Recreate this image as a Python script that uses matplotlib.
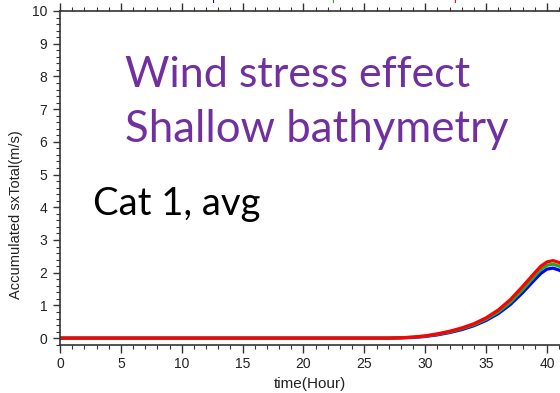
import matplotlib
matplotlib.use("Agg")
import matplotlib.pyplot as plt
from matplotlib.ticker import MultipleLocator

# Accumulated wind-stress forcing (sxTotal) for three runs
hours = [0, 5, 10, 15, 20, 25, 27, 28, 29, 30, 31, 32, 33, 34, 35, 36, 37, 38,
         39, 39.5, 40, 40.5, 41, 41.5]
sx_blue = [0, 0, 0, 0, 0, 0, 0, 0.01, 0.02, 0.05, 0.10, 0.17, 0.26, 0.38, 0.54,
           0.75, 1.03, 1.39, 1.79, 1.98, 2.11, 2.14, 2.08, 1.98]
sx_green = [0, 0, 0, 0, 0, 0, 0, 0.01, 0.03, 0.06, 0.12, 0.19, 0.29, 0.41, 0.58,
            0.80, 1.10, 1.48, 1.90, 2.10, 2.23, 2.26, 2.20, 2.10]
sx_red = [0, 0, 0, 0, 0, 0, 0, 0.01, 0.03, 0.07, 0.13, 0.21, 0.31, 0.44, 0.62,
          0.86, 1.18, 1.58, 2.00, 2.20, 2.33, 2.37, 2.31, 2.20]
series_labels = ["10.0m depth", "20.0m depth", "30.0m depth"]
series_colors = ["#0000ff", "#22aa22", "#ff0000"]

fig = plt.figure(figsize=(5.6, 3.93), dpi=100)
W, H = 560, 393
ax = fig.add_axes([60 / W, 1 - 345 / H, 1 - 60 / W, (345 - 11) / H])

for ys, c in zip([sx_blue, sx_green, sx_red], series_colors):
    ax.plot(hours, ys, color=c, lw=2.3, solid_capstyle="butt")

ax.set_xlim(0, 41.07)
ax.set_ylim(-0.21, 10)
ax.xaxis.set_major_locator(MultipleLocator(5))
ax.xaxis.set_minor_locator(MultipleLocator(1))
ax.yaxis.set_major_locator(MultipleLocator(1))
ax.yaxis.set_minor_locator(MultipleLocator(0.2))
ax.spines["right"].set_visible(False)
for s in ["left", "bottom", "top"]:
    ax.spines[s].set_linewidth(1.2)
    ax.spines[s].set_color("#333333")

ax.tick_params(axis="both", which="major", direction="out", length=5, width=1,
               colors="#333333", labelsize=10)
ax.tick_params(axis="x", which="major", pad=2.5)
ax.tick_params(axis="y", which="major", pad=4)
ax.tick_params(axis="both", which="minor", direction="out", length=3, width=0.8,
               colors="#333333")
ax.tick_params(axis="x", which="both", top=True)
ax.tick_params(axis="x", which="major", labeltop=False, length=6)
for lbl in ax.get_xticklabels() + ax.get_yticklabels():
    lbl.set_fontfamily("Liberation Sans")
    lbl.set_color("#222222")

fig.text(310 / W, 1 - 384 / H, "time(Hour)", ha="center", va="center",
         fontsize=11, family="Liberation Sans", color="#222222")
fig.text(16 / W, 1 - 215 / H, "Accumulated sxTotal(m/s)", ha="center",
         va="center", rotation=90, fontsize=10.5, family="Liberation Sans",
         color="#222222")

# Series labels above the frame
for x0, lab, c in zip([163, 283, 405], series_labels, series_colors):
    fig.text(x0 / W, 1 - 3 / H, lab, ha="left", va="bottom", fontsize=8.5,
             family="Liberation Sans", color=c)

purple = "#7030a0"
fig.text(125 / W, 1 - 87 / H, "Wind stress effect", ha="left", va="baseline",
         fontsize=31, family="Lato", color=purple)
fig.text(125 / W, 1 - 142 / H, "Shallow bathymetry", ha="left", va="baseline",
         fontsize=31.5, family="Lato", color=purple)
fig.text(93 / W, 1 - 215 / H, "Cat 1, avg", ha="left", va="baseline",
         fontsize=27.5, family="Lato", color="black")

fig.savefig("out.png", dpi=100)
